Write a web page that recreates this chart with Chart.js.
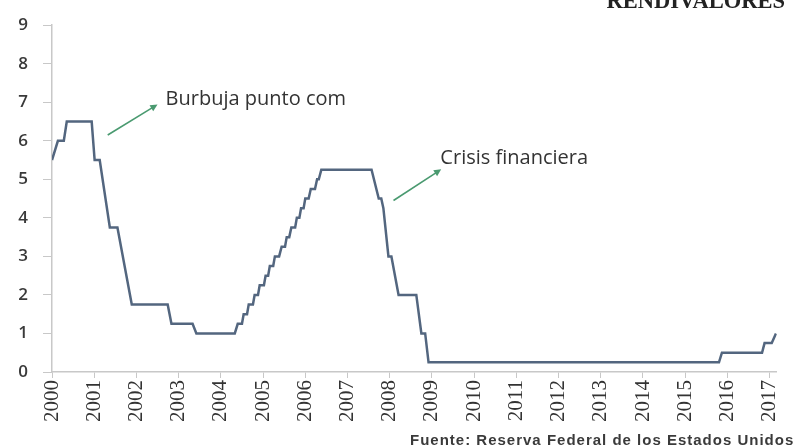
<!DOCTYPE html>
<html>
<head>
<meta charset="utf-8">
<script src="https://cdn.jsdelivr.net/npm/chart.js@4/dist/chart.umd.min.js"></script>
<style>
    body { margin: 0; background: #fff; }
    #wrap { width: 797px; height: 448px; position: relative; }
</style>
</head>
<body>
<div id="wrap"><canvas id="fedChart"></canvas></div>
<script>
// Tasa de fondos federales (%), vertices (año decimal)
const years = [
    2000.00, 2000.14, 2000.28, 2000.35, 2000.94, 2001.01, 2001.13, 2001.37, 2001.55, 2001.89,
    2002.74, 2002.83, 2003.33, 2003.42, 2004.33,
    2004.40, 2004.50, 2004.54, 2004.62, 2004.66, 2004.76, 2004.80, 2004.88, 2004.92, 2005.02,
    2005.06, 2005.12, 2005.16, 2005.24, 2005.28, 2005.38, 2005.44, 2005.52, 2005.56, 2005.62,
    2005.67, 2005.76, 2005.80, 2005.86, 2005.90, 2005.96, 2006.00, 2006.08, 2006.13, 2006.23,
    2006.28, 2006.32, 2006.38, 2007.57, 2007.74, 2007.80, 2007.85, 2007.97, 2008.04, 2008.21,
    2008.63, 2008.75, 2008.84, 2008.92, 2015.80, 2015.87, 2016.82, 2016.88, 2017.05, 2017.15
];
const rates = [
    5.50, 6.00, 6.00, 6.50, 6.50, 5.50, 5.50, 3.75, 3.75, 1.75,
    1.75, 1.25, 1.25, 1.00, 1.00,
    1.25, 1.25, 1.50, 1.50, 1.75, 1.75, 2.00, 2.00, 2.25, 2.25,
    2.50, 2.50, 2.75, 2.75, 3.00, 3.00, 3.25, 3.25, 3.50, 3.50,
    3.75, 3.75, 4.00, 4.00, 4.25, 4.25, 4.50, 4.50, 4.75, 4.75,
    5.00, 5.00, 5.25, 5.25, 4.50, 4.50, 4.25, 3.00, 3.00, 2.00,
    2.00, 1.00, 1.00, 0.25, 0.25, 0.50, 0.50, 0.75, 0.75, 1.00
];
const yTicks = [0, 1, 2, 3, 4, 5, 6, 7, 8, 9];

const notes = [
    { text: "Burbuja punto com", from: [2001.32, 6.15], to: [2002.50, 6.94], label: [2002.69, 7.07] },
    { text: "Crisis financiera", from: [2008.09, 4.45], to: [2009.22, 5.26], label: [2009.20, 5.54] }
];

const extrasPlugin = {
    id: "extras",
    afterDraw(chart) {
        const { ctx, scales: { x, y } } = chart;
        ctx.save();

        notes.forEach(n => {
            const x1 = x.getPixelForValue(n.from[0]), y1 = y.getPixelForValue(n.from[1]);
            const x2 = x.getPixelForValue(n.to[0]), y2 = y.getPixelForValue(n.to[1]);
            const ang = Math.atan2(y2 - y1, x2 - x1);
            ctx.strokeStyle = "#4a9a70";
            ctx.fillStyle = "#4a9a70";
            ctx.lineWidth = 1.6;
            ctx.beginPath();
            ctx.moveTo(x1, y1);
            ctx.lineTo(x2 - 5 * Math.cos(ang), y2 - 5 * Math.sin(ang));
            ctx.stroke();
            ctx.beginPath();
            ctx.moveTo(x2, y2);
            ctx.lineTo(x2 - 8 * Math.cos(ang - 0.45), y2 - 8 * Math.sin(ang - 0.45));
            ctx.lineTo(x2 - 8 * Math.cos(ang + 0.45), y2 - 8 * Math.sin(ang + 0.45));
            ctx.closePath();
            ctx.fill();

            ctx.fillStyle = "#333";
            ctx.font = "20px 'Open Sans'";
            ctx.textBaseline = "middle";
            ctx.textAlign = "left";
            ctx.fillText(n.text, x.getPixelForValue(n.label[0]), y.getPixelForValue(n.label[1]));
        });

        ctx.fillStyle = "#222";
        ctx.font = "bold 22.5px 'Liberation Serif'";
        ctx.textBaseline = "alphabetic";
        ctx.textAlign = "right";
        ctx.fillText("RENDIVALORES", 785, 8);

        ctx.fillStyle = "#3a3a3a";
        ctx.font = "bold 15px 'Liberation Sans'";
        ctx.letterSpacing = "1px";
        ctx.textAlign = "left";
        ctx.fillText("Fuente: Reserva Federal de los Estados Unidos", 410, 445);

        ctx.restore();
    }
};

new Chart(document.getElementById("fedChart"), {
    type: "line",
    data: {
        datasets: [{
            data: years.map((yr, i) => ({ x: yr, y: rates[i] })),
            borderColor: "#53667f",
            borderWidth: 2.5,
            pointRadius: 0,
            tension: 0,
            fill: false
        }]
    },
    options: {
        responsive: true,
        maintainAspectRatio: false,
        animation: false,
        layout: { padding: { top: 18, right: 17, left: 0, bottom: 0 } },
        plugins: {
            legend: { display: false },
            tooltip: { enabled: false }
        },
        scales: {
            x: {
                type: "linear",
                min: 2000,
                max: 2017.17,
                afterFit: s => { s.height = 76; },
                border: { color: "#c8c8c8", width: 1.5 },
                grid: { drawOnChartArea: false, drawTicks: true, tickLength: 6, color: "#c8c8c8" },
                ticks: {
                    stepSize: 1,
                    includeBounds: false,
                    autoSkip: false,
                    minRotation: 90,
                    maxRotation: 90,
                    padding: 2,
                    color: "#333",
                    font: { family: "'Liberation Serif'", size: 21 },
                    callback: v => String(v)
                }
            },
            y: {
                min: 0,
                max: 9,
                afterFit: s => { s.width = 52; },
                afterBuildTicks: s => { s.ticks = yTicks.map(v => ({ value: v })); },
                border: { color: "#c8c8c8", width: 1.5 },
                grid: { drawOnChartArea: false, drawTicks: true, tickLength: 9, color: "#c8c8c8" },
                ticks: {
                    padding: 15,
                    color: "#3a3a3a",
                    font: { family: "'Open Sans'", size: 17, weight: "600" }
                }
            }
        }
    },
    plugins: [extrasPlugin]
});
</script>
</body>
</html>
